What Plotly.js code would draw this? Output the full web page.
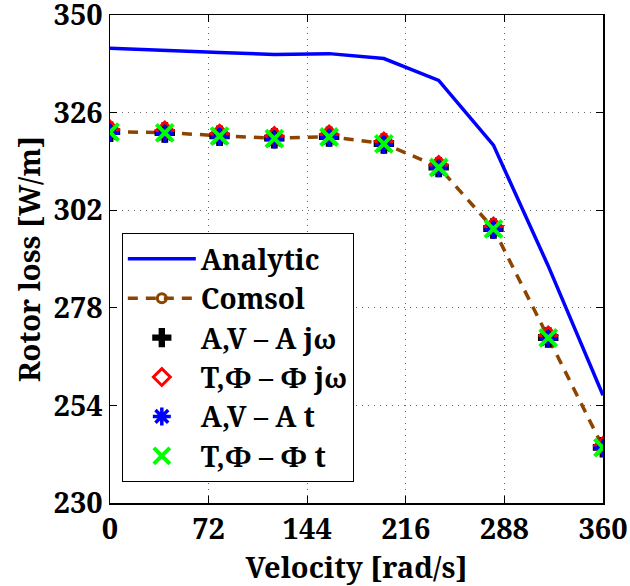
<!DOCTYPE html>
<html>
<head>
<meta charset="utf-8">
<script src="https://cdn.plot.ly/plotly-3.0.1.min.js"></script>
<style>html,body{margin:0;padding:0;background:#fff;}#chart{width:630px;height:586px;}</style>
</head>
<body>
<div id="chart"></div>
<script>
const velocity = [0, 40, 80, 120, 160, 200, 240, 280, 320, 360];
const analytic = [341.8, 341.4, 340.8, 340.3, 340.5, 339.3, 333.9, 318.0, 288.3, 256.5];
const comsol = [321.3, 321.1, 320.3, 319.7, 320.1, 318.4, 312.6, 297.5, 270.7, 243.7];
const avFreq = [321.3, 321.1, 320.3, 319.7, 320.1, 318.4, 312.6, 297.5, 270.7, 243.7];
const tpFreq = [321.8, 321.6, 320.8, 320.2, 320.6, 318.9, 313.1, 298.0, 271.2, 244.0];
const avTime = [321.0, 320.8, 320.0, 319.4, 319.8, 318.1, 312.3, 297.2, 270.4, 243.5];
const tpTime = [321.2, 321.0, 320.2, 319.6, 320.0, 318.3, 312.5, 297.4, 270.6, 243.6];
const xTicks = [0, 72, 144, 216, 288, 360];
const yTicks = [230, 254, 278, 302, 326, 350];
const names = ['Analytic', 'Comsol', 'A,V \u2013 A j\u03c9', 'T,\u03a6 \u2013 \u03a6 j\u03c9', 'A,V \u2013 A t', 'T,\u03a6 \u2013 \u03a6 t'];

const fontFam = 'Noto Serif';
const b = s => '<b>' + s + '</b>';

const traces = [
  {x: velocity, y: analytic, name: b(names[0]), mode: 'lines', line: {color: 'rgb(0,0,255)', width: 3.5}, legendgroup: 'a'},
  {x: velocity, y: comsol, name: b(names[1]), mode: 'lines+markers', line: {color: 'rgb(139,69,0)', width: 3.5, dash: '10px,8px'},
   marker: {symbol: 'circle-open', size: 9, color: 'rgb(139,69,0)', line: {width: 3, color: 'rgb(139,69,0)'}}, legendgroup: 'b'},
  {x: velocity, y: avFreq, name: b(names[2]), mode: 'markers', marker: {symbol: 'cross', size: 17, color: 'black', line: {width: 0}}, legendgroup: 'c'},
  {x: velocity, y: tpFreq, name: b(names[3]), mode: 'markers', marker: {symbol: 'diamond-open', size: 13, color: 'rgb(255,0,0)', line: {width: 3, color: 'rgb(255,0,0)'}}, legendgroup: 'd'},
  {x: velocity, y: avTime, name: b(names[4]), mode: 'markers', marker: {symbol: 'asterisk-open', size: 15, color: 'rgb(0,0,255)', line: {width: 3.5, color: 'rgb(0,0,255)'}}, legendgroup: 'e'},
  {x: velocity, y: tpTime, name: b(names[5]), mode: 'markers', marker: {symbol: 'x-thin-open', size: 17, color: 'rgb(0,255,0)', line: {width: 4, color: 'rgb(0,255,0)'}}, legendgroup: 'f'}
];

function axisBase() {
  return {
    showline: true, linecolor: 'black', linewidth: 1.5, mirror: 'ticks',
    ticks: 'inside', ticklen: 7, tickwidth: 1, tickcolor: 'black',
    showgrid: true, gridcolor: 'rgba(0,0,0,0.6)', gridwidth: 1, griddash: '1px,5px',
    zeroline: false, ticklabeloverflow: 'allow',
    tickfont: {family: fontFam, size: 29, color: 'black'}
  };
}

const layout = {
  width: 630, height: 586,
  font: {family: fontFam, color: 'black'},
  margin: {l: 110, r: 27, t: 15, b: 83},
  paper_bgcolor: 'white', plot_bgcolor: 'white',
  showlegend: true,
  xaxis: Object.assign(axisBase(), {
    range: [0, 360], tickvals: xTicks, ticktext: xTicks.map(v => b(String(v))),
    title: {text: b('Velocity [rad/s]'), font: {family: fontFam, size: 29, color: 'black'}, standoff: 2}
  }),
  yaxis: Object.assign(axisBase(), {
    range: [230, 350], tickvals: yTicks, ticktext: yTicks.map(v => b(String(v))),
    title: {text: b('Rotor loss [W/m]'), font: {family: fontFam, size: 29, color: 'black'}, standoff: 4}
  }),
  legend: {
    x: 0.024, y: 0.553, xanchor: 'left', yanchor: 'top',
    bgcolor: 'white', bordercolor: 'black', borderwidth: 1,
    font: {family: fontFam, size: 28, color: 'black'},
    tracegroupgap: 3, itemwidth: 68, traceorder: 'normal'
  }
};

Plotly.newPlot('chart', traces, layout, {displayModeBar: false, staticPlot: true});
</script>
</body>
</html>
